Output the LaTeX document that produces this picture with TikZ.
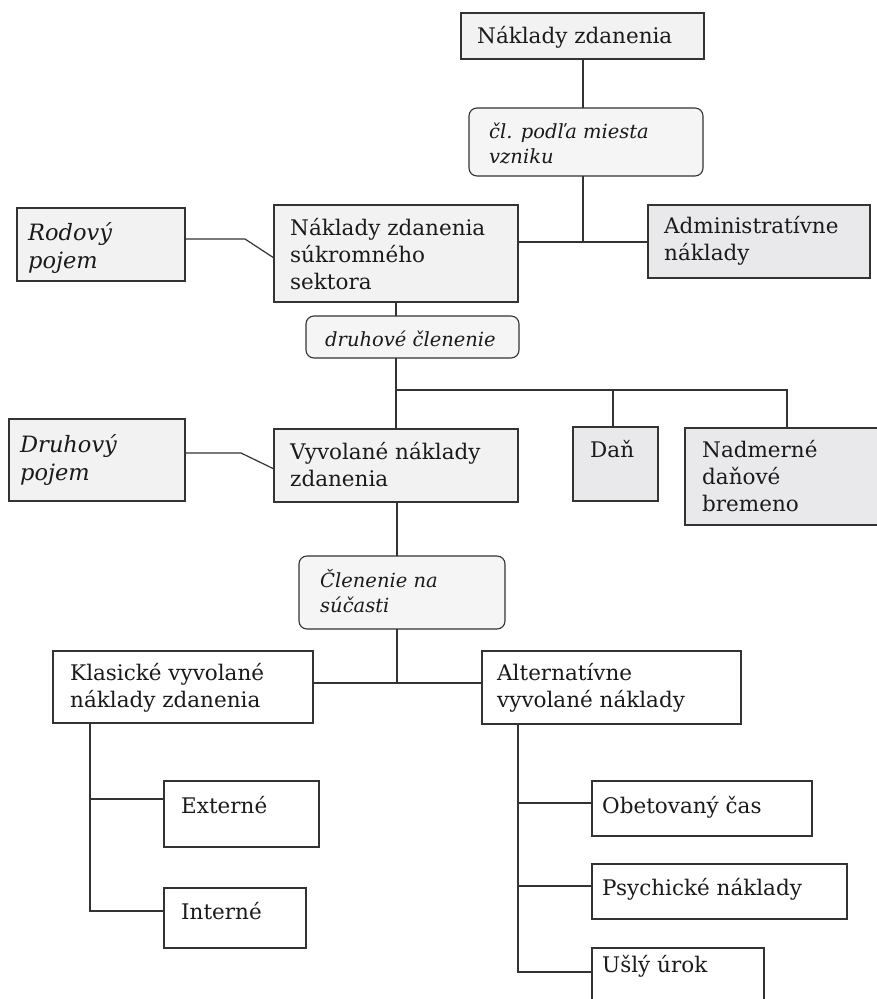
\documentclass[tikz,border=0pt]{standalone}
\usepackage{fontspec}
\setmainfont{DejaVu Serif}
\usetikzlibrary{calc}
\definecolor{linec}{HTML}{333333}
\definecolor{boxa}{HTML}{F2F2F2}
\definecolor{boxb}{HTML}{E9E9EB}
\definecolor{boxr}{HTML}{F5F5F5}
\definecolor{txtc}{HTML}{1A1A1A}
\newcommand\rmsz{\fontsize{21.5}{27}\selectfont}
\newcommand\itsz{\fontsize{19.5}{25}\selectfont\itshape}
\newcommand\itbig{\fontsize{22.5}{28}\selectfont\itshape}
\begin{document}
\begin{tikzpicture}[x=1pt,y=-1pt,
  box/.style={draw=linec, line width=1.1pt, inner sep=0pt, outer sep=0pt, anchor=north west},
  lt/.style={box, fill=boxa},
  dk/.style={box, fill=boxb},
  wh/.style={box, fill=white},
  rd/.style={box, fill=boxr, rounded corners=8pt},
  rmt/.style={inner sep=0pt, anchor=base west, align=left, text=txtc, font=\rmsz},
  itt/.style={inner sep=0pt, anchor=base west, align=left, text=txtc, font=\itsz},
  itb/.style={inner sep=0pt, anchor=base west, align=left, text=txtc, font=\itbig},
  conn/.style={draw=linec, line width=1.2pt}]
\useasboundingbox[fill=white] (0,0) rectangle (876,999);

% boxes
\node[lt, minimum width=243pt, minimum height=46pt] (top) at (461,13) {};
\node[rd, minimum width=234pt, minimum height=68pt] (cl) at (469,108) {};
\node[lt, minimum width=244pt, minimum height=97pt] (nzss) at (274,205) {};
\node[dk, minimum width=222pt, minimum height=73pt] (admin) at (648,205) {};
\node[lt, minimum width=168pt, minimum height=73pt] (rod) at (17,208) {};
\node[rd, minimum width=213pt, minimum height=42pt] (dc) at (306,316) {};
\node[lt, minimum width=244pt, minimum height=73pt] (vyv) at (274,429) {};
\node[lt, minimum width=176pt, minimum height=82pt] (dru) at (9,419) {};
\node[dk, minimum width=85pt, minimum height=74pt] (dan) at (573,427) {};
\node[dk, minimum width=200pt, minimum height=97pt] (nad) at (685,428) {};
\node[rd, minimum width=206pt, minimum height=73pt] (cn) at (299,556) {};
\node[wh, minimum width=260pt, minimum height=72pt] (kl) at (53,651) {};
\node[wh, minimum width=259pt, minimum height=73pt] (alt) at (482,651) {};
\node[wh, minimum width=155pt, minimum height=66pt] (ext) at (164,781) {};
\node[wh, minimum width=142pt, minimum height=60pt] (int) at (164,888) {};
\node[wh, minimum width=220pt, minimum height=55pt] (obet) at (592,781) {};
\node[wh, minimum width=255pt, minimum height=55pt] (psy) at (592,864) {};
\node[wh, minimum width=172pt, minimum height=70pt] (usly) at (592,948) {};

% texts (anchor = baseline of the last line)
\node[rmt] (top-t) at (477,43) {Náklady zdanenia};
\node[itt] (cl-t) at (489,163) {čl. podľa miesta\\vzniku};
\node[rmt] (nzss-t) at (290,289) {Náklady zdanenia\\súkromného\\sektora};
\node[rmt] (admin-t) at (664,260) {Administratívne\\náklady};
\node[itb] (rod-t) at (28,268) {Rodový\\pojem};
\node[itt] (dc-t) at (325,346) {druhové členenie};
\node[itb] (dru-t) at (20,480) {Druhový\\pojem};
\node[rmt] (vyv-t) at (290,486) {Vyvolané náklady\\zdanenia};
\node[rmt] (dan-t) at (590,457) {Daň};
\node[rmt] (nad-t) at (702,511) {Nadmerné\\daňové\\bremeno};
\node[itt] (cn-t) at (320,612) {Členenie na\\súčasti};
\node[rmt] (kl-t) at (70,707) {Klasické vyvolané\\náklady zdanenia};
\node[rmt] (alt-t) at (497,707) {Alternatívne\\vyvolané náklady};
\node[rmt] (ext-t) at (181,813) {Externé};
\node[rmt] (int-t) at (181,919) {Interné};
\node[rmt] (obet-t) at (602,813) {Obetovaný čas};
\node[rmt] (psy-t) at (602,895) {Psychické náklady};
\node[rmt] (usly-t) at (602,972) {Ušlý úrok};

% connectors
\coordinate (ax) at (583,242);
\draw[conn] (top.south -| ax) -- (cl.north -| ax);
\draw[conn] (cl.south -| ax) -- (ax);
\draw[conn] (nzss.east |- ax) -- (admin.west |- ax);
\draw[conn] ($(rod.east)+(0,-5.5)$) -- ++(60,0) -- ($(nzss.west)+(0,4.5)$);
\draw[conn] (nzss.south) -- (nzss.south |- dc.north);
\draw[conn] (nzss.south |- dc.south) -- (vyv.north);
\coordinate (bd) at (396,390);
\coordinate (bn) at (787,390);
\draw[conn] (bd) -- (bn) -- (bn |- nad.north);
\coordinate (bdan) at (613,390);
\draw[conn] (bdan) -- (bdan |- dan.north);
\draw[conn] ($(dru.east)+(0,-7)$) -- ++(56,0) -- ($(vyv.west)+(0,3.5)$);
\coordinate (bc) at (397,683);
\draw[conn] (vyv.south -| bc) -- (cn.north -| bc);
\draw[conn] (cn.south -| bc) -- (bc);
\draw[conn] (kl.east |- bc) -- (alt.west |- bc);
\coordinate (kb1) at (90,799);
\coordinate (kb2) at (90,911);
\draw[conn] (kl.south -| kb1) -- (kb2) -- (kb2 -| int.west);
\draw[conn] (kb1) -- (kb1 -| ext.west);
\coordinate (ab1) at (518,803);
\coordinate (ab2) at (518,886);
\coordinate (ab3) at (518,972);
\draw[conn] (alt.south -| ab1) -- (ab3) -- (ab3 -| usly.west);
\draw[conn] (ab1) -- (ab1 -| obet.west);
\draw[conn] (ab2) -- (ab2 -| psy.west);
\end{tikzpicture}
\end{document}
